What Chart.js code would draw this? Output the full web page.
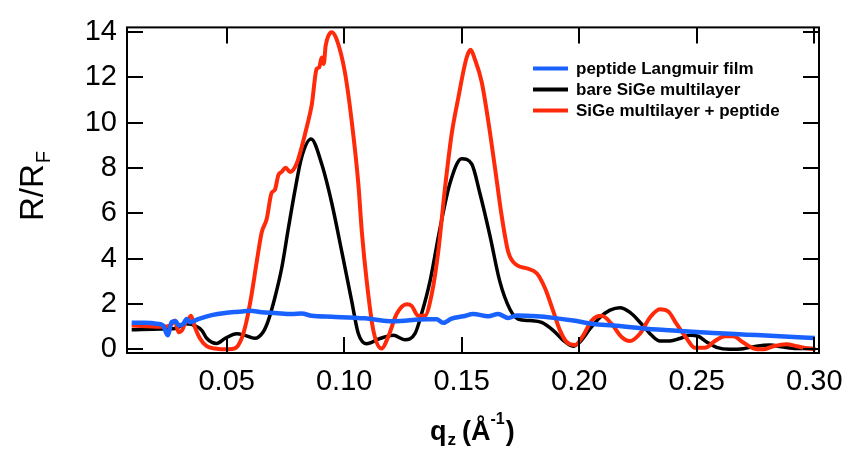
<!DOCTYPE html>
<html>
<head>
<meta charset="utf-8">
<script src="https://cdn.jsdelivr.net/npm/chart.js@4.4.1/dist/chart.umd.min.js"></script>
<style>
  html, body { margin: 0; padding: 0; background: #fff; }
  #wrap { width: 854px; height: 451px; position: relative; }
</style>
</head>
<body>
<div id="wrap"><canvas id="c"></canvas></div>
<script>
// ---- data ----
const seriesNames = ['peptide Langmuir film', 'bare SiGe multilayer', 'SiGe multilayer + peptide'];

const qBlue = [0.0096, 0.0152, 0.0209, 0.023, 0.0249, 0.0266, 0.0283, 0.0297, 0.0315, 0.033, 0.0344, 0.0379, 0.0436, 0.0493, 0.0549, 0.0599, 0.0649, 0.0705, 0.0776, 0.0819, 0.0862, 0.0947, 0.1088, 0.1209, 0.1351, 0.1393, 0.1421, 0.1457, 0.1507, 0.1549, 0.1613, 0.1655, 0.1698, 0.1734, 0.1819, 0.1889, 0.1974, 0.206, 0.2145, 0.2287, 0.2428, 0.257, 0.2712, 0.2853, 0.3002];
const rBlue = [1.17, 1.17, 1.12, 1.05, 0.62, 1.20, 1.24, 1.05, 1.12, 1.34, 1.20, 1.34, 1.51, 1.61, 1.66, 1.70, 1.64, 1.61, 1.56, 1.58, 1.48, 1.44, 1.37, 1.24, 1.33, 1.33, 1.17, 1.36, 1.46, 1.56, 1.46, 1.56, 1.39, 1.49, 1.46, 1.39, 1.27, 1.12, 1.05, 0.91, 0.81, 0.72, 0.65, 0.58, 0.50];

const qBlack = [0.0096, 0.022, 0.028, 0.0325, 0.0350, 0.0394, 0.0415, 0.0457, 0.0494, 0.0543, 0.0578, 0.0620, 0.0656, 0.0677, 0.0705, 0.0734, 0.0762, 0.0791, 0.0819, 0.0859, 0.0904, 0.0947, 0.0990, 0.1032, 0.1060, 0.1095, 0.1152, 0.1209, 0.1258, 0.1301, 0.1329, 0.1365, 0.1407, 0.1450, 0.1500, 0.1542, 0.1577, 0.1620, 0.1662, 0.1705, 0.1740, 0.1790, 0.1840, 0.1889, 0.1932, 0.1974, 0.2003, 0.2046, 0.2088, 0.2131, 0.2173, 0.2216, 0.2265, 0.2308, 0.2343, 0.2386, 0.2428, 0.2471, 0.2506, 0.2542, 0.2584, 0.2641, 0.2698, 0.2754, 0.2811, 0.2868, 0.2925, 0.2981, 0.3002];
const rBlack = [0.87, 0.90, 0.92, 1.13, 1.10, 0.84, 0.49, 0.26, 0.49, 0.69, 0.62, 0.49, 0.78, 1.27, 2.28, 3.58, 5.31, 7.04, 8.48, 9.28, 8.19, 6.46, 4.30, 2.13, 0.70, 0.25, 0.48, 0.62, 0.43, 0.69, 1.56, 3.00, 5.31, 7.33, 8.41, 8.19, 6.90, 5.02, 3.00, 1.77, 1.34, 1.27, 1.19, 0.84, 0.40, 0.14, 0.33, 0.91, 1.41, 1.73, 1.84, 1.63, 1.12, 0.62, 0.37, 0.37, 0.48, 0.62, 0.58, 0.33, 0.09, 0.00, 0.03, 0.14, 0.19, 0.10, 0.04, 0.04, 0.04];

const qRed = [0.0096, 0.022, 0.026, 0.028, 0.0295, 0.031, 0.0322, 0.0337, 0.0348, 0.0365, 0.0386, 0.0415, 0.045, 0.0507, 0.0535, 0.0564, 0.0585, 0.0606, 0.0628, 0.0649, 0.067, 0.0691, 0.0705, 0.072, 0.0734, 0.0751, 0.077, 0.0791, 0.0805, 0.0819, 0.084, 0.0862, 0.0883, 0.0894, 0.0904, 0.0913, 0.0921, 0.0932, 0.0947, 0.0968, 0.1003, 0.1032, 0.106, 0.1075, 0.1096, 0.1124, 0.1159, 0.1187, 0.1223, 0.1266, 0.1287, 0.1315, 0.1343, 0.1372, 0.14, 0.1428, 0.1457, 0.1485, 0.1521, 0.1538, 0.1556, 0.1585, 0.1613, 0.1641, 0.167, 0.1698, 0.1734, 0.1776, 0.1819, 0.1854, 0.1889, 0.1918, 0.1946, 0.1982, 0.2017, 0.2053, 0.2095, 0.2138, 0.218, 0.2216, 0.2258, 0.2301, 0.2343, 0.2379, 0.2414, 0.2457, 0.2492, 0.2535, 0.2577, 0.262, 0.2655, 0.2698, 0.274, 0.2783, 0.2826, 0.2882, 0.2925, 0.2967, 0.3006];
const rRed = [1.05, 1.00, 1.05, 1.27, 0.76, 0.84, 1.13, 1.34, 1.48, 0.98, 0.49, 0.14, 0.04, 0.00, 0.04, 0.49, 1.27, 2.42, 3.87, 5.16, 5.74, 6.90, 7.04, 7.69, 7.83, 8.02, 7.83, 8.05, 8.41, 8.92, 9.78, 10.79, 12.38, 12.45, 12.88, 12.60, 13.39, 13.82, 14.00, 13.68, 12.23, 10.07, 7.33, 5.2, 3.0, 0.84, 0.04, 0.55, 1.56, 1.99, 1.92, 1.48, 1.48, 2.42, 4.30, 7.04, 9.49, 11.08, 12.88, 13.22, 12.80, 11.80, 10.07, 8.05, 5.89, 4.30, 3.72, 3.58, 3.36, 2.71, 1.70, 0.84, 0.33, 0.19, 0.62, 1.27, 1.48, 1.12, 0.55, 0.37, 0.69, 1.41, 1.77, 1.67, 1.12, 0.48, 0.07, 0.07, 0.37, 0.58, 0.58, 0.30, 0.05, 0.00, 0.14, 0.23, 0.14, 0.05, 0.00];

const xTicks = [0.05, 0.10, 0.15, 0.20, 0.25, 0.30];
const yTicks = [0, 2, 4, 6, 8, 10, 12, 14];

// ---- styling ----
const BLUE = '#1a62ff', BLACK = '#000000', RED = '#ff2a0a';
const FONT = "'Liberation Sans', Arial, Helvetica, sans-serif";

function pts(q, r) {
  const n = Math.min(q.length, r.length), out = [];
  for (let i = 0; i < n; i++) out.push({ x: q[i], y: r[i] });
  return out;
}

const decor = {
  id: 'decor',
  afterDatasetsDraw(chart) {
    const ctx = chart.ctx, a = chart.chartArea;
    const xs = chart.scales.x, ys = chart.scales.y;
    ctx.save();
    ctx.strokeStyle = '#000';
    ctx.lineWidth = 2;
    ctx.strokeRect(a.left, a.top, a.right - a.left, a.bottom - a.top);
    const TL = 16;
    ctx.beginPath();
    xTicks.forEach(v => {
      const px = Math.round(xs.getPixelForValue(v));
      ctx.moveTo(px, a.bottom); ctx.lineTo(px, a.bottom - TL);
      ctx.moveTo(px, a.top); ctx.lineTo(px, a.top + TL);
    });
    yTicks.forEach(v => {
      const py = Math.round(ys.getPixelForValue(v));
      ctx.moveTo(a.left, py); ctx.lineTo(a.left + TL, py);
      ctx.moveTo(a.right, py); ctx.lineTo(a.right - TL, py);
    });
    ctx.stroke();

    // legend
    const colors = [BLUE, BLACK, RED];
    const lx0 = a.left + 406, lx1 = a.left + 441, tx = a.left + 449;
    const ly0 = a.top + 41;
    ctx.font = "bold 17px " + FONT;
    ctx.textBaseline = 'alphabetic';
    ctx.textAlign = 'left';
    seriesNames.forEach((name, i) => {
      const y = ly0 + i * 21;
      ctx.strokeStyle = colors[i];
      ctx.lineWidth = 4;
      ctx.beginPath(); ctx.moveTo(lx0, y); ctx.lineTo(lx1, y); ctx.stroke();
      ctx.fillStyle = '#000';
      ctx.fillText(name, tx, y + 6);
    });

    // y title R/R_F
    ctx.save();
    ctx.translate(43, 221);
    ctx.rotate(-Math.PI / 2);
    ctx.fillStyle = '#000';
    ctx.font = "33px " + FONT;
    ctx.textBaseline = 'alphabetic';
    ctx.fillText('R/R', 0, 0);
    const w = ctx.measureText('R/R').width;
    ctx.font = "20px " + FONT;
    ctx.fillText('F', w + 1, 7);
    ctx.restore();

    // x title q_z (Å^-1)
    ctx.save();
    ctx.translate(430, 440);
    ctx.fillStyle = '#000';
    let x = 0;
    ctx.font = "bold 27px " + FONT;
    ctx.fillText('q', x, 0); x += ctx.measureText('q').width + 1;
    ctx.font = "bold 17px " + FONT;
    ctx.fillText('z', x, 5); x += ctx.measureText('z').width + 6;
    ctx.font = "bold 27px " + FONT;
    ctx.fillText('(Å', x, 0); x += ctx.measureText('(Å').width;
    ctx.font = "bold 16px " + FONT;
    ctx.fillText('-1', x, -16); x += ctx.measureText('-1').width + 1;
    ctx.font = "bold 27px " + FONT;
    ctx.fillText(')', x, 0);
    ctx.restore();
    ctx.restore();
  }
};

const lineDs = (label, q, r, color, w) => ({
  label, data: pts(q, r), borderColor: color, backgroundColor: color,
  borderWidth: w, pointRadius: 0, fill: false, cubicInterpolationMode: 'monotone'
});

new Chart(document.getElementById('c'), {
  type: 'line',
  data: {
    datasets: [
      lineDs(seriesNames[0], qBlue, rBlue, BLUE, 4.5),
      lineDs(seriesNames[2], qRed, rRed, RED, 4),
      lineDs(seriesNames[1], qBlack, rBlack, BLACK, 3.5)
    ]
  },
  options: {
    responsive: true,
    maintainAspectRatio: false,
    animation: false,
    devicePixelRatio: 1,
    layout: { padding: { top: 21, right: 35, left: 0, bottom: 0 } },
    plugins: { legend: { display: false }, tooltip: { enabled: false } },
    scales: {
      x: {
        type: 'linear', min: 0.0076, max: 0.302,
        grid: { display: false, drawTicks: false },
        border: { display: false },
        afterBuildTicks: s => { s.ticks = xTicks.map(v => ({ value: v })); },
        afterFit: s => { s.height = 98; },
        ticks: {
          padding: 9, color: '#000', maxRotation: 0, autoSkip: false,
          font: { family: FONT, size: 29, lineHeight: 1.4 },
          callback: v => Number(v).toFixed(2)
        }
      },
      y: {
        type: 'linear', min: -0.16, max: 14.21,
        grid: { display: false, drawTicks: false },
        border: { display: false },
        afterBuildTicks: s => { s.ticks = yTicks.map(v => ({ value: v })); },
        afterFit: s => { s.width = 127; },
        ticks: {
          padding: 10, color: '#000', autoSkip: false,
          font: { family: FONT, size: 29 },
          callback: v => String(v)
        }
      }
    }
  },
  plugins: [decor]
});
</script>
</body>
</html>
